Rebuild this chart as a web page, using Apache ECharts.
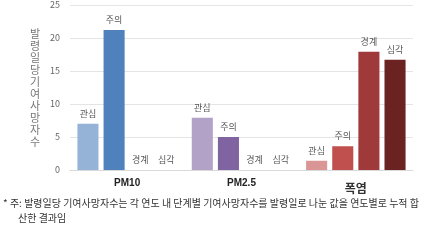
<!DOCTYPE html>
<html><head><meta charset="utf-8">
<script src="https://cdn.jsdelivr.net/npm/echarts@6/dist/echarts.min.js"></script>
<style>html,body{margin:0;padding:0;background:#fff}#c{width:442px;height:249px}</style>
</head><body><div id="c"></div>
<script>
const categories = ['PM10', 'PM2.5', '폭염'];
const stages = ['관심', '주의', '경계', '심각'];
const v관심 = [7.0, 7.9, 1.4];
const v주의 = [21.2, 5.0, 3.6];
const v경계 = [0, 0, 17.9];
const v심각 = [0, 0, 16.7];
const yTicks = [0, 5, 10, 15, 20, 25];
const yName = '발령일당기여사망자수';
const note1 = '* 주: 발령일당 기여사망자수는 각 연도 내 단계별 기여사망자수를 발령일로 나눈 값을 연도별로 누적 합';
const note2 = '산한 결과임';

const colors = [
  ['#95b3d7', '#b3a2c7', '#d99694'],
  ['#4f81bd', '#8064a2', '#c0504d'],
  ['#4f81bd', '#8064a2', '#a0393a'],
  ['#4f81bd', '#8064a2', '#6b2321']
];
const vals = [v관심, v주의, v경계, v심각];
const FONT = '"Noto Sans CJK KR", "Noto Sans", sans-serif';

const chart = echarts.init(document.getElementById('c'));
chart.setOption({
  animation: false,
  textStyle: { fontFamily: FONT },
  grid: { left: 70, right: 29, top: 5, bottom: 79 },
  xAxis: {
    type: 'category', data: categories,
    axisLine: { lineStyle: { color: '#d9d9d9' } },
    axisTick: { show: false },
    axisLabel: {
      margin: 8,
      formatter: function (v) { return v === '폭염' ? '{b|' + v + '}' : '{a|' + v + '}'; },
      rich: {
        a: { fontSize: 10, fontWeight: 'bold', color: '#222', fontFamily: 'Liberation Sans, sans-serif' },
        b: { fontSize: 12, fontWeight: 'bold', color: '#333', fontFamily: FONT, padding: [4, 0, 0, 0] }
      }
    }
  },
  yAxis: {
    type: 'value', min: 0, max: 25, interval: 5,
    name: yName.split('').join('\n'),
    nameLocation: 'middle', nameRotate: 0, nameGap: 30,
    nameTextStyle: { fontSize: 11, color: '#777', lineHeight: 12, fontFamily: FONT },
    axisLabel: { fontSize: 9, color: '#666', margin: 10 },
    axisLine: { show: false }, axisTick: { show: false },
    splitLine: { lineStyle: { color: '#e4e4e4' } }
  },
  series: stages.map(function (s, i) {
    return {
      name: s, type: 'bar', barGap: '24%', barCategoryGap: '13%',
      data: vals[i].map(function (v, j) { return { value: v, itemStyle: { color: colors[i][j] } }; }),
      label: { show: true, position: 'top', formatter: s, fontSize: 9, color: '#555', distance: 6 }
    };
  }),
  graphic: [
    { type: 'text', left: 3, top: 198, style: { text: note1, fontSize: 10, fill: '#333', fontFamily: FONT } },
    { type: 'text', left: 18, top: 213, style: { text: note2, fontSize: 10, fill: '#333', fontFamily: FONT } }
  ]
});
</script></body></html>
